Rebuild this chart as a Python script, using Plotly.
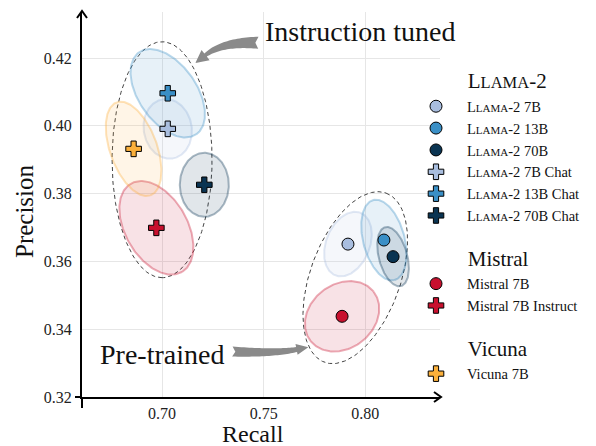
import numpy as np
import plotly.graph_objects as go

# ---------------- data ----------------
MODELS = ["Llama-2 7B", "Llama-2 13B", "Llama-2 70B",
          "Llama-2 7B Chat", "Llama-2 13B Chat", "Llama-2 70B Chat",
          "Mistral 7B", "Mistral 7B Instruct", "Vicuna 7B"]
FAMILY = ["Llama-2", "Llama-2", "Llama-2", "Llama-2", "Llama-2", "Llama-2",
          "Mistral", "Mistral", "Vicuna"]
TUNED = [False, False, False, True, True, True, False, True, True]
RECALL = [0.7915, 0.8092, 0.8137, 0.7028, 0.7028, 0.7208, 0.7886, 0.6972, 0.6860]
PRECISION = [0.3651, 0.3663, 0.3614, 0.3991, 0.4096, 0.3826, 0.3438, 0.3699, 0.3932]
# spread ellipses (semi-axes in px, angle of major axis in deg, screen y down)
SPREAD_A = [33.7, 41.4, 30.5, 30.0, 50.0, 32.0, 40.0, 51.0, 49.5]
SPREAD_B = [21.8, 20.7, 14.2, 24.0, 29.0, 24.5, 32.0, 31.0, 23.5]
SPREAD_ANG = [-68, 75, 75, 80, 55, 90, -38, 60, 70]

GROUP_LABELS = ["Instruction tuned", "Pre-trained"]
GROUP_R = [0.700, 0.7951]
GROUP_P = [0.390, 0.3552]
GROUP_A = [118, 90]
GROUP_B = [50, 45]
GROUP_ANG = [90, -70]

X_TICKS = [0.70, 0.75, 0.80]
Y_TICKS = [0.32, 0.34, 0.36, 0.38, 0.40, 0.42]

# ---------------- layout geometry ----------------
W, H = 596, 446
OFF = 8                      # page body margin
PL, PT = 82, 12              # plot area top-left on the page
PW, PH = 358, 385
ML, MT = PL - OFF, PT - OFF
MR, MB = W - ML - PW, H - MT - PH
X0, X1 = 0.6606, 0.8368
Y0, Y1 = 0.32, 0.43357
SX = PW / (X1 - X0)
SY = PH / (Y1 - Y0)

FONT = "Liberation Serif"
COLORS = {"7B": "#a9bedf", "13B": "#3a8fc6", "70B": "#0a3452",
          "Mistral": "#c8102e", "Vicuna": "#fbb03b"}


def color_of(name):
    if name.startswith("Mistral"):
        return COLORS["Mistral"]
    if name.startswith("Vicuna"):
        return COLORS["Vicuna"]
    for k in ("70B", "13B", "7B"):
        if k in name:
            return COLORS[k]


def rgba(hx, a):
    hx = hx.lstrip("#")
    r, g, b = int(hx[0:2], 16), int(hx[2:4], 16), int(hx[4:6], 16)
    return f"rgba({r},{g},{b},{a})"


def ellipse(cx, cy, a, b, ang, n=200):
    t = np.linspace(0, 2 * np.pi, n)
    th = np.radians(ang)
    px = a * np.cos(t) * np.cos(th) - b * np.sin(t) * np.sin(th)
    py = a * np.cos(t) * np.sin(th) + b * np.sin(t) * np.cos(th)
    return cx + px / SX, cy - py / SY


def sc(text, small):
    # small caps imitation for "Llama-2"
    return text.replace("Llama-2", f"L<span style='font-size:{small}px'>LAMA</span>-2")


GROUP_TITLE_PAD = "\u00a0" * 11

fig = go.Figure()

# group ellipses (dashed)
for gi in range(len(GROUP_LABELS)):
    ex, ey = ellipse(GROUP_R[gi], GROUP_P[gi], GROUP_A[gi], GROUP_B[gi], GROUP_ANG[gi])
    fig.add_trace(go.Scatter(x=ex, y=ey, mode="lines", showlegend=False, hoverinfo="skip",
                             line=dict(color="#444", width=1, dash="4px,3px")))

# spread ellipses
for i, m in enumerate(MODELS):
    c = color_of(m)
    ex, ey = ellipse(RECALL[i], PRECISION[i], SPREAD_A[i], SPREAD_B[i], SPREAD_ANG[i])
    fig.add_trace(go.Scatter(x=ex, y=ey, mode="lines", fill="toself", showlegend=False,
                             hoverinfo="skip", fillcolor=rgba(c, 0.12),
                             line=dict(color=rgba(c, 0.35), width=2)))

# points (legend order)
seen = set()
for i, m in enumerate(MODELS):
    c = color_of(m)
    fam = FAMILY[i]
    kw = {}
    if fam not in seen:
        seen.add(fam)
        kw["legendgrouptitle"] = dict(text=GROUP_TITLE_PAD + sc(fam, 16.5),
                                      font=dict(size=21, family=FONT, color="#111"))
    fig.add_trace(go.Scatter(
        x=[RECALL[i]], y=[PRECISION[i]], mode="markers", name=sc(m, 11),
        legendgroup=fam,
        marker=dict(symbol="cross" if TUNED[i] else "circle", size=13 if TUNED[i] else 12,
                    color=c, line=dict(color="black", width=1)),
        **kw))


# fancy curved arrows (geometry anchored on data points, widths in px)
def fancy_path(tail, ctrl, tip, w_tail, w_neck, head_w, head_len, notch=3):
    def to_px(p):
        return np.array([(p[0] - tip[0]) * SX, (p[1] - tip[1]) * SY])  # y up
    T, C, P = to_px(tail), to_px(ctrl), to_px(tip)
    d = P - C
    d = d / np.linalg.norm(d)
    B = P - d * head_len
    ts = np.linspace(0, 1, 30)
    pts = np.array([(1 - t) ** 2 * T + 2 * (1 - t) * t * C + t ** 2 * B for t in ts])
    tang = np.array([2 * (1 - t) * (C - T) + 2 * t * (B - C) for t in ts])
    tang = tang / np.linalg.norm(tang, axis=1)[:, None]
    nrm = np.stack([-tang[:, 1], tang[:, 0]], axis=1)
    w = (w_tail + (w_neck - w_tail) * ts)[:, None] / 2
    left = pts + nrm * w
    right = pts - nrm * w
    nB = np.array([-d[1], d[0]])
    poly = list(left) + [B + nB * head_w / 2, P, B - nB * head_w / 2] + list(right[::-1])
    poly.append(T + tang[0] * notch)
    return "M" + " L".join(f"{x:.2f},{y:.2f}" for x, y in poly) + " Z"


ARROWS = [
    dict(tail=(0.7474, 0.4245), ctrl=(0.7297, 0.4248), tip=(0.7164, 0.4185), w=(12, 4, 13, 13)),
    dict(tail=(0.7346, 0.3334), ctrl=(0.7558, 0.3328), tip=(0.7720, 0.3347), w=(10, 5, 11, 12)),
]
shapes = []
for a in ARROWS:
    path = fancy_path(a["tail"], a["ctrl"], a["tip"], *a["w"])
    shapes.append(dict(type="path", xref="x", yref="y", xsizemode="pixel", ysizemode="pixel",
                       xanchor=a["tip"][0], yanchor=a["tip"][1], path=path,
                       fillcolor="#8a8a8a", line=dict(width=0), layer="above"))

# axis extensions + arrow heads
shapes += [
    dict(type="line", xref="paper", yref="paper", x0=0, x1=0, ysizemode="pixel", yanchor=0,
         y0=0, y1=-11, line=dict(color="black", width=2)),
    dict(type="line", xref="paper", yref="paper", y0=0, y1=0, xsizemode="pixel", xanchor=0,
         x0=0, x1=-7, line=dict(color="black", width=2)),
    dict(type="path", xref="paper", yref="paper", xsizemode="pixel", ysizemode="pixel",
         xanchor=1, yanchor=0, path="M-6,5 L1,0 L-6,-5", line=dict(color="black", width=2)),
    dict(type="path", xref="paper", yref="paper", xsizemode="pixel", ysizemode="pixel",
         xanchor=0, yanchor=1, path="M-5,-6 L0,1 L5,-6", line=dict(color="black", width=2)),
]

annotations = [
    dict(text="Instruction tuned", x=0.7497, y=0.4278, xref="x", yref="y", xanchor="left",
         yanchor="middle", showarrow=False, font=dict(size=28, family=FONT, color="#111")),
    dict(text="Pre-trained", x=0.7316, y=0.3326, xref="x", yref="y", xanchor="right",
         yanchor="middle", showarrow=False, font=dict(size=28, family=FONT, color="#111")),
    dict(text="Recall", x=(253 - PL) / PW, y=0, xref="paper", yref="paper", yshift=-37,
         xanchor="center", yanchor="middle", showarrow=False,
         font=dict(size=24, family=FONT, color="#111")),
    dict(text="Precision", x=0, y=(PT + PH - 211) / PH, xref="paper", yref="paper", xshift=-(PL - 24),
         xanchor="center", yanchor="middle", textangle=-90, showarrow=False,
         font=dict(size=25, family=FONT, color="#111")),
]

fig.update_layout(
    width=W, height=H, margin=dict(l=ML, r=MR, t=MT, b=MB, autoexpand=False),
    paper_bgcolor="white", plot_bgcolor="white",
    font=dict(family=FONT, color="#222"),
    shapes=shapes, annotations=annotations,
    xaxis=dict(range=[X0, X1], tickvals=X_TICKS, ticktext=[f"{v:.2f}" for v in X_TICKS],
               showgrid=True, gridcolor="#e6e6e6", gridwidth=1, zeroline=False,
               showline=True, linecolor="black", linewidth=2, ticks="",
               ticklabelstandoff=1, tickfont=dict(size=16, family=FONT, color="#222")),
    yaxis=dict(range=[Y0, Y1], tickvals=Y_TICKS, ticktext=[f"{v:.2f}" for v in Y_TICKS],
               showgrid=True, gridcolor="#e6e6e6", gridwidth=1, zeroline=False,
               showline=True, linecolor="black", linewidth=2, ticks="",
               ticklabelstandoff=5, tickfont=dict(size=16, family=FONT, color="#222")),
    legend=dict(x=(405 - PL) / PW, xanchor="left", y=(PT + PH - 60) / PH, yanchor="top",
                bgcolor="rgba(0,0,0,0)", itemwidth=52, tracegroupgap=16,
                font=dict(size=14.5, family=FONT, color="#111")),
    showlegend=True,
)

fig.write_html("out.html")
